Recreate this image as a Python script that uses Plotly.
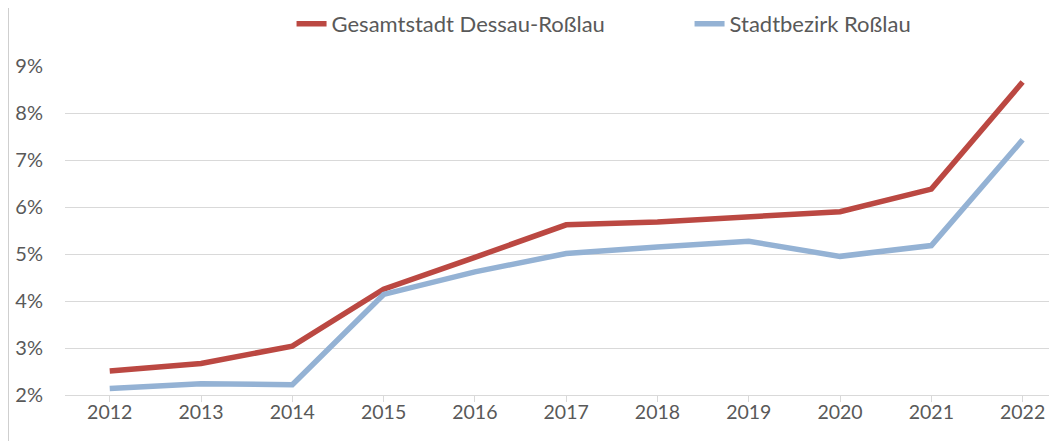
import plotly.graph_objects as go

# years on the category axis
years = ["2012", "2013", "2014", "2015", "2016", "2017", "2018", "2019", "2020", "2021", "2022"]

# share in percent
gesamtstadt = [2.51, 2.67, 3.04, 4.25, 4.93, 5.62, 5.68, 5.80, 5.90, 6.38, 8.66]
rosslau = [2.14, 2.24, 2.22, 4.14, 4.62, 5.01, 5.15, 5.27, 4.95, 5.18, 7.43]

y_ticks = [2, 3, 4, 5, 6, 7, 8, 9]
y_labels = ["2%", "3%", "4%", "5%", "6%", "7%", "8%", "9%"]

font_name = "Lato"
grey_text = "#595959"
grid_col = "#d9d9d9"

fig = go.Figure()

fig.add_trace(go.Scatter(x=years, y=gesamtstadt, mode="lines", name="Gesamtstadt Dessau-Roßlau",
                         line=dict(color="#bb4842", width=5.5), cliponaxis=False))
fig.add_trace(go.Scatter(x=years, y=rosslau, mode="lines", name="Stadtbezirk Roßlau",
                         line=dict(color="#94b2d4", width=5.5), cliponaxis=False))

# page has an 8px body margin, so the figure is 8px smaller than the window
# plot area on the page: x 65..1050, y 66..395
# autoexpand off so the wide legend does not squeeze the plot
fig.update_layout(
    width=1049, height=433,
    margin=dict(l=57, r=7, t=58, b=46, autoexpand=False),
    paper_bgcolor="white", plot_bgcolor="white",
    font=dict(family=font_name, size=19.5, color=grey_text),
    legend=dict(orientation="h", x=0.230, xanchor="left", y=1.128, yanchor="middle",
                font=dict(size=22, color=grey_text), entrywidth=353,
                bgcolor="rgba(0,0,0,0)"),
    showlegend=True,
)

fig.update_xaxes(type="category", range=[-0.49, 10.3], showgrid=False,
                 showline=True, linecolor=grid_col, linewidth=1,
                 ticks="outside", ticklen=6, tickcolor=grid_col,
                 tickfont=dict(size=19.5, color=grey_text), ticklabelstandoff=-6)
fig.update_yaxes(range=[2, 9], tickvals=y_ticks, ticktext=y_labels,
                 showgrid=True, gridcolor=grid_col, gridwidth=1, zeroline=False,
                 tickfont=dict(size=20, color=grey_text), ticklabelstandoff=21)

# thin frame line at the left edge of the image
fig.add_shape(type="line", xref="paper", yref="paper",
              x0=-57 / 985, x1=-57 / 985, y0=-0.14, y1=1.185,
              line=dict(color="#bfbfbf", width=1.5))

fig.write_html("out.html")
